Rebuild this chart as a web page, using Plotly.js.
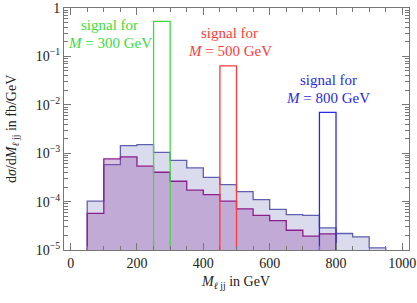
<!DOCTYPE html>
<html><head><meta charset="utf-8">
<script src="https://cdn.plot.ly/plotly-3.0.1.min.js"></script>
<style>html,body{margin:0;padding:0;background:#fff}#plot{width:417px;height:303px}</style>
</head><body><div id="plot"></div>
<script>
// background histogram bin edges (GeV)
const binEdges = [50,100,150,200,250,300,350,400,450,500,550,600,650,700,750,800,850,900,950];
// total background (lavender), fb/GeV
const bgTotal = [1.02e-4,5.8e-4,1.44e-3,1.51e-3,1.04e-3,7.1e-4,4.97e-4,3.18e-4,2.25e-4,1.61e-4,1.10e-4,6.9e-5,5.4e-5,5.2e-5,2.87e-5,2.19e-5,1.87e-5,1.11e-5];
// second background component (purple)
const bgPurple = [5.7e-5,7.6e-4,8.4e-4,5.4e-4,4.04e-4,2.63e-4,1.72e-4,1.40e-4,1.02e-4,7.1e-5,5.2e-5,4.06e-5,2.56e-5,1.93e-5,2.16e-5,1e-9,1e-9,1e-9];
// signals
const signalMasses = [300,500,800];
const signalLo = [250,450,750];
const signalHi = [300,500,800];
const signalVal = [0.53,0.064,0.007];
const signalColors = ['#3ddc3d','#ff3a3a','#2a2ae0'];
const yTickVals = [1,1e-1,1e-2,1e-3,1e-4,1e-5];
const yTickText = ['1','10<sup>−1</sup>','10<sup>−2</sup>','10<sup>−3</sup>','10<sup>−4</sup>','10<sup>−5</sup>'];
const xTickVals = [0,200,400,600,800,1000];

const FLOOR = 1e-9;
function stepPoly(edges, vals){
  const xs=[edges[0]], ys=[FLOOR];
  for(let i=0;i<vals.length;i++){
    xs.push(edges[i], edges[i+1]); ys.push(vals[i], vals[i]);
  }
  xs.push(edges[edges.length-1]); ys.push(FLOOR);
  return {xs, ys};
}
const p1 = stepPoly(binEdges, bgTotal);
const p2 = stepPoly(binEdges, bgPurple);

const traces = [
  {x:p1.xs, y:p1.ys, type:'scatter', mode:'lines', fill:'toself',
   fillcolor:'rgba(170,170,215,0.42)', line:{color:'rgb(95,95,175)', width:1.3}, hoverinfo:'skip'},
  {x:p2.xs, y:p2.ys, type:'scatter', mode:'lines', fill:'toself',
   fillcolor:'rgba(150,80,170,0.35)', line:{color:'rgb(140,30,140)', width:1.3}, hoverinfo:'skip'}
];
for(let i=0;i<signalMasses.length;i++){
  traces.push({x:[signalLo[i],signalLo[i],signalHi[i],signalHi[i]],
    y:[FLOOR,signalVal[i],signalVal[i],FLOOR], type:'scatter', mode:'lines',
    line:{color:signalColors[i], width:1.3}, hoverinfo:'skip'});
}

// minor ticks
const yMinor=[];
for(let e=-5;e<0;e++){for(let d=2;d<=9;d++){yMinor.push(d*Math.pow(10,e));}}
const xMinor=[];
for(let v=0;v<=1000;v+=50){ if(v%200!==0) xMinor.push(v); }

const serif = '"Liberation Serif", "Times New Roman", serif';
const annFont = (c)=>({family:serif, size:15, color:c});
const annotations = [];
const annX = [118,479,777];
const annY1 = [25,33,80];
for(let i=0;i<signalMasses.length;i++){
  annotations.push({xref:'x', yref:'paper', x:annX[i], y:1-(annY1[i]-8.3)/242.2, text:'signal for',
    showarrow:false, font:annFont(signalColors[i]), xanchor:'center', yanchor:'middle'});
  annotations.push({xref:'x', yref:'paper', x:annX[i], y:1-(annY1[i]+18-8.3)/242.2,
    text:'<i>M</i> = '+signalMasses[i]+' GeV',
    showarrow:false, font:annFont(signalColors[i]), xanchor:'center', yanchor:'middle'});
}
annotations.push({xref:'paper', yref:'paper', x:(12-64)/345.5, y:0.5, textangle:-90,
  text:'d<i>σ</i>/d<i>M</i><sub><i>ℓ</i> jj</sub> in fb/GeV', showarrow:false,
  font:{family:serif, size:14, color:'#222'}, xanchor:'center', yanchor:'middle'});
annotations.push({xref:'paper', yref:'paper', x:(236-64)/345.5, y:-(283-250.5)/242.2,
  text:'<i>M</i><sub><i>ℓ</i> jj</sub> in GeV', showarrow:false,
  font:{family:serif, size:14, color:'#222'}, xanchor:'center', yanchor:'middle'});

const layout = {
  width:417, height:303,
  margin:{l:64, r:7.5, t:8.3, b:52.5},
  paper_bgcolor:'#fff', plot_bgcolor:'#fff',
  showlegend:false,
  font:{family:serif, size:14, color:'#222'},
  xaxis:{range:[-20,1020], showgrid:false, zeroline:false, showline:true, linecolor:'#777', linewidth:1,
    mirror:'allticks', ticks:'inside', ticklen:7, tickcolor:'#777', tickmode:'array', tickvals:xTickVals,
    minor:{ticks:'inside', ticklen:4, tickcolor:'#777', tickmode:'array', tickvals:xMinor, showgrid:false},
    tickfont:{family:serif, size:14, color:'#222'}},
  yaxis:{type:'log', range:[-5,0], showgrid:false, zeroline:false, showline:true, linecolor:'#777', linewidth:1,
    mirror:'allticks', ticks:'inside', ticklen:7, tickcolor:'#777', tickmode:'array', tickvals:yTickVals, ticktext:yTickText,
    minor:{ticks:'inside', ticklen:4, tickcolor:'#777', tickmode:'array', tickvals:yMinor, showgrid:false},
    tickfont:{family:serif, size:14, color:'#222'}},
  annotations:annotations
};
Plotly.newPlot('plot', traces, layout, {staticPlot:true, displayModeBar:false});
</script></body></html>
